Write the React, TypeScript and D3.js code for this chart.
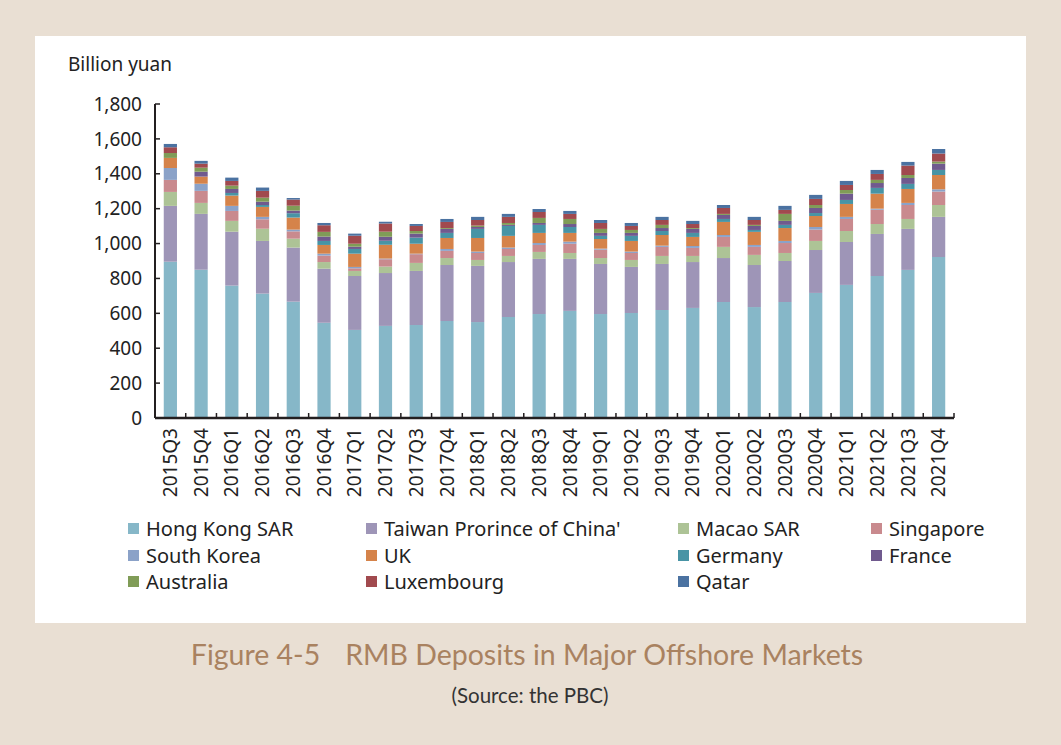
import React from 'react'
import * as d3 from 'd3'

const quarters = [
  '2015Q3', '2015Q4', '2016Q1', '2016Q2', '2016Q3', '2016Q4', '2017Q1', '2017Q2', '2017Q3',
  '2017Q4', '2018Q1', '2018Q2', '2018Q3', '2018Q4', '2019Q1', '2019Q2', '2019Q3', '2019Q4',
  '2020Q1', '2020Q2', '2020Q3', '2020Q4', '2021Q1', '2021Q2', '2021Q3', '2021Q4',
]

// billion yuan
const hongKong = [896, 850, 759, 713, 667, 546, 505, 528, 533, 556, 550, 579, 596, 614, 596, 602, 619, 631, 665, 636, 665, 717, 763, 814, 849, 923]
const taiwan = [320, 320, 309, 302, 310, 310, 309, 303, 310, 321, 322, 315, 316, 298, 287, 264, 264, 263, 252, 241, 235, 246, 246, 241, 235, 230]
const macao = [80, 63, 62, 70, 51, 38, 29, 37, 46, 40, 34, 35, 40, 34, 34, 40, 46, 35, 64, 58, 46, 52, 63, 57, 57, 68]
const singapore = [69, 69, 57, 54, 42, 37, 15, 42, 50, 41, 40, 40, 40, 53, 48, 40, 52, 46, 57, 46, 57, 65, 69, 82, 80, 77]
const southKorea = [68, 41, 29, 14, 10, 11, 8, 4, 3, 11, 8, 8, 11, 12, 6, 8, 7, 11, 11, 11, 12, 15, 12, 6, 12, 13]
const uk = [58, 41, 59, 57, 69, 50, 76, 79, 57, 63, 78, 67, 58, 50, 55, 61, 61, 52, 75, 75, 74, 63, 74, 86, 80, 82]
const germany = [0, 0, 15, 11, 25, 23, 27, 23, 35, 29, 52, 57, 46, 34, 18, 29, 23, 23, 17, 11, 18, 17, 23, 33, 29, 29]
const france = [0, 28, 23, 19, 15, 25, 13, 23, 23, 23, 11, 6, 11, 17, 17, 17, 17, 23, 23, 23, 23, 29, 36, 28, 34, 36]
const australia = [28, 23, 19, 23, 28, 27, 17, 29, 15, 5, 8, 11, 29, 29, 23, 17, 18, 5, 6, 6, 40, 17, 21, 18, 17, 12]
const luxembourg = [33, 23, 27, 39, 35, 38, 46, 47, 29, 35, 32, 35, 34, 29, 34, 23, 28, 23, 34, 28, 23, 35, 29, 34, 54, 46]
const qatar = [19, 16, 19, 19, 9, 13, 12, 10, 11, 17, 18, 17, 17, 17, 17, 17, 18, 18, 17, 18, 23, 23, 23, 23, 21, 26]

const seriesNames = [
  'Hong Kong SAR', "Taiwan Prorince of China'", 'Macao SAR', 'Singapore', 'South Korea', 'UK',
  'Germany', 'France', 'Australia', 'Luxembourg', 'Qatar',
]
const seriesValues = [hongKong, taiwan, macao, singapore, southKorea, uk, germany, france, australia, luxembourg, qatar]
const seriesColors = [
  '#86b7c8', '#9e95b7', '#adc396', '#c98a8e', '#8ba2c8', '#d5834a',
  '#4894a5', '#705a8e', '#809c57', '#a14a4e', '#4b72a1',
]
const yTicks = [0, 200, 400, 600, 800, 1000, 1200, 1400, 1600, 1800]

const W = 1061
const H = 745
const left = 155
const right = 954
const top = 104
const bottom = 418
const font = '"Noto Sans", sans-serif'

const App = () => {
  const rows = quarters.map((q, i) => {
    const r: Record<string, number | string> = { q }
    seriesNames.forEach((s, k) => { r[s] = seriesValues[k][i] })
    return r
  })
  const stacked = d3.stack<any>().keys(seriesNames)(rows)

  const x = d3.scaleBand().domain(quarters).range([left, right]).padding(0)
  const y = d3.scaleLinear().domain([0, 1800]).range([bottom, top])
  const barW = x.bandwidth() * 0.43

  const legendCols = [128, 366, 678, 871]
  const legendRows = [529, 556, 582]

  return (
    <svg width={W} height={H} style={{ position: 'absolute', left: 0, top: 0 }}>
      <rect x={0} y={0} width={W} height={H} fill="#e9dfd3" />
      <rect x={35} y={36} width={991} height={587} fill="#ffffff" />

      <text x={68} y={71} fontFamily={font} fontSize={19} fill="#222">Billion yuan</text>

      {stacked.map((layer, k) => (
        <g key={layer.key} fill={seriesColors[k]}>
          {layer.map((d, i) => (
            <rect
              key={quarters[i]}
              x={(x(quarters[i]) as number) + (x.bandwidth() - barW) / 2}
              y={y(d[1])}
              width={barW}
              height={Math.max(0, y(d[0]) - y(d[1]))}
            />
          ))}
        </g>
      ))}

      {/* y axis */}
      <line x1={left} x2={left} y1={top} y2={bottom} stroke="#231f20" strokeWidth={2} />
      {yTicks.map(t => (
        <g key={t}>
          <line x1={left} x2={left + 5} y1={y(t)} y2={y(t)} stroke="#231f20" strokeWidth={1.5} />
          <text x={142} y={y(t)} dy="0.35em" textAnchor="end" fontFamily={font} fontSize={19} fill="#222">
            {d3.format(',')(t)}
          </text>
        </g>
      ))}

      {/* x axis */}
      <line x1={left} x2={right} y1={bottom} y2={bottom} stroke="#231f20" strokeWidth={2.5} />
      {quarters.map(q => (
        <line
          key={'t' + q}
          x1={(x(q) as number) + x.bandwidth()}
          x2={(x(q) as number) + x.bandwidth()}
          y1={bottom}
          y2={bottom - 5}
          stroke="#231f20"
          strokeWidth={1.5}
        />
      ))}
      {quarters.map(q => {
        const cx = (x(q) as number) + x.bandwidth() / 2
        return (
          <text
            key={'l' + q}
            transform={`translate(${cx},428) rotate(-90)`}
            dy="0.35em"
            textAnchor="end"
            fontFamily={font}
            fontSize={19}
            fill="#222"
          >
            {q}
          </text>
        )
      })}

      {/* legend */}
      {seriesNames.map((s, k) => {
        const lx = legendCols[k % 4]
        const ly = legendRows[Math.floor(k / 4)]
        return (
          <g key={'lg' + s}>
            <rect x={lx} y={ly - 6} width={11} height={11} fill={seriesColors[k]} />
            <text x={lx + 18} y={ly} dy="0.35em" fontFamily={font} fontSize={20} fill="#222">{s}</text>
          </g>
        )
      })}

      <text x={527} y={665} textAnchor="middle" fontFamily='"Lato", sans-serif' fontSize={28.5} fill="#a98260">
        {'Figure 4-5\u2003\u2009RMB Deposits in Major Offshore Markets'}
      </text>
      <text x={530} y={703} textAnchor="middle" fontFamily='"Lato", sans-serif' fontSize={20.5} fill="#333">
        (Source: the PBC)
      </text>
    </svg>
  )
}

export default App
